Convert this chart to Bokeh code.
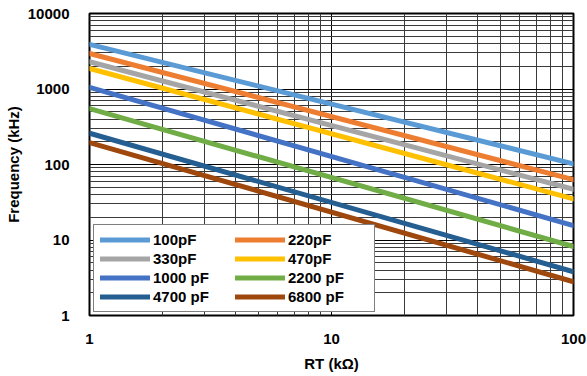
from bokeh.plotting import figure
from bokeh.models import FixedTicker, PrintfTickFormatter, Legend, LegendItem
from bokeh.embed import file_html
from bokeh.resources import INLINE

rt = [1, 100]
series_names = ["100pF", "220pF", "330pF", "470pF", "1000 pF", "2200 pF", "4700 pF", "6800 pF"]
freq_100pF = [3900, 102]
freq_220pF = [2950, 63]
freq_330pF = [2300, 47]
freq_470pF = [1870, 35]
freq_1000pF = [1050, 15.5]
freq_2200pF = [550, 8.2]
freq_4700pF = [260, 3.8]
freq_6800pF = [195, 2.8]
series_values = [freq_100pF, freq_220pF, freq_330pF, freq_470pF,
                 freq_1000pF, freq_2200pF, freq_4700pF, freq_6800pF]
colors = ["#5B9BD5", "#ED7D31", "#A5A5A5", "#FFC000",
          "#4472C4", "#70AD47", "#255E91", "#9E480E"]
x_ticks = [1, 10, 100]
y_ticks = [1, 10, 100, 1000, 10000]

p = figure(x_axis_type="log", y_axis_type="log",
           x_range=(1, 100), y_range=(1, 10000),
           frame_width=484, frame_height=302,
           min_border_left=89, min_border_right=14, min_border_top=13, min_border_bottom=61,
           output_backend="svg", toolbar_location=None,
           background_fill_color="white", border_fill_color="white")

x_minor = [m * d for d in [1, 10] for m in range(2, 10)]
y_minor = [m * d for d in [1, 10, 100, 1000] for m in range(2, 10)]
p.xaxis.ticker = FixedTicker(ticks=x_ticks, minor_ticks=x_minor)
p.yaxis.ticker = FixedTicker(ticks=y_ticks, minor_ticks=y_minor)
p.xaxis.formatter = PrintfTickFormatter(format="%d")
p.yaxis.formatter = PrintfTickFormatter(format="%d")

for ax in (p.xaxis, p.yaxis):
    ax.major_label_text_font = "Liberation Sans"
    ax.major_label_text_font_style = "bold"
    ax.major_label_text_font_size = "15px"
    ax.major_label_text_color = "black"
    ax.axis_label_text_font = "Liberation Sans"
    ax.axis_label_text_font_style = "bold"
    ax.axis_label_text_font_size = "15px"
    ax.axis_label_text_color = "black"
    ax.axis_line_color = None
    ax.major_tick_line_color = None
    ax.minor_tick_line_color = None

p.xaxis.axis_label = "RT (kΩ)"
p.yaxis.axis_label = "Frequency (kHz)"
p.xaxis.major_label_standoff = 12
p.yaxis.major_label_standoff = 14
p.xaxis.axis_label_standoff = 8
p.yaxis.axis_label_standoff = 3

for g in (p.xgrid, p.ygrid):
    g.grid_line_color = "black"
    g.grid_line_width = 1
    g.grid_line_alpha = 1
    g.minor_grid_line_color = "#3a3a3a"
    g.minor_grid_line_width = 1

p.outline_line_color = "black"
p.outline_line_width = 2

renderers = []
for name, vals, c in zip(series_names, series_values, colors):
    r = p.line(rt, vals, line_color=c, line_width=5, line_cap="round")
    renderers.append((name, r))

# legend fills column by column: put even-index series in column 1, odd in column 2
order = [0, 2, 4, 6, 1, 3, 5, 7]
items = [LegendItem(label=renderers[i][0], renderers=[renderers[i][1]]) for i in order]

legend = Legend(items=items, ncols=2, location=(4, 3),
                label_text_font="Liberation Sans", label_text_font_style="bold",
                label_text_font_size="15px", label_text_color="black",
                glyph_width=50, glyph_height=15, label_standoff=3,
                spacing=2, padding=6, margin=0,
                label_height=15, label_width=80,
                border_line_color="black", border_line_width=1,
                background_fill_color="white", background_fill_alpha=1)
p.add_layout(legend, "center")

open("out.html", "w").write(file_html(p, INLINE))
